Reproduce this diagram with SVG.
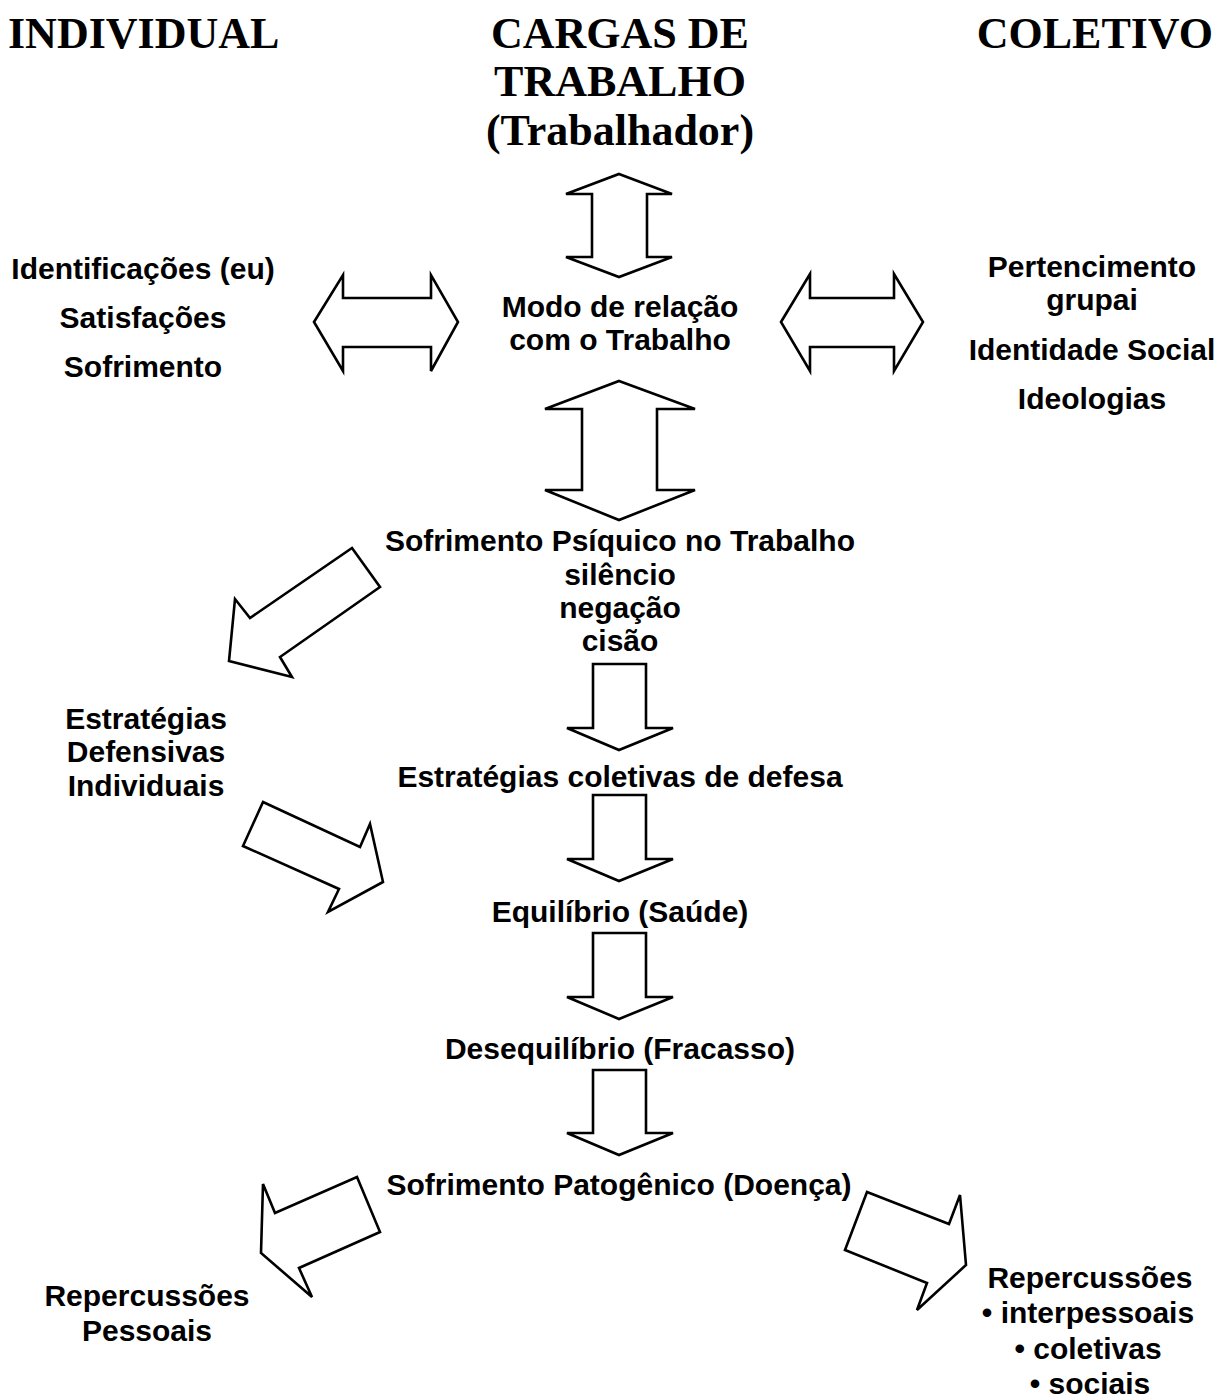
<svg xmlns="http://www.w3.org/2000/svg" width="1220" height="1399" viewBox="0 0 1220 1399">
<style>
.h{font-family:"Liberation Serif","Times New Roman",serif;font-weight:bold;font-size:44px;fill:#000}
.t{font-family:"Liberation Sans",Arial,sans-serif;font-weight:bold;font-size:30px;fill:#000;text-anchor:middle}
.a{fill:#fff;stroke:#000;stroke-width:2.6;stroke-linejoin:miter}
</style>
<rect width="1220" height="1399" fill="#fff"/>
<g id="header-individual"><text class="h" x="8" y="48">INDIVIDUAL</text></g>
<g id="header-cargas"><text class="h" x="620" y="48" text-anchor="middle">CARGAS DE</text><text class="h" x="620" y="96" text-anchor="middle">TRABALHO</text><text class="h" x="620" y="145" text-anchor="middle">(Trabalhador)</text></g>
<g id="header-coletivo"><text class="h" x="1213" y="48" text-anchor="end">COLETIVO</text></g>
<g id="individual-list"><text class="t" x="143" y="279">Identificações (eu)</text><text class="t" x="143" y="328">Satisfações</text><text class="t" x="143" y="377">Sofrimento</text></g>
<g id="modo-relacao"><text class="t" x="620" y="317">Modo de relação</text><text class="t" x="620" y="350">com o Trabalho</text></g>
<g id="coletivo-list"><text class="t" x="1092" y="277">Pertencimento</text><text class="t" x="1092" y="310">grupai</text><text class="t" x="1092" y="360">Identidade Social</text><text class="t" x="1092" y="409">Ideologias</text></g>
<g id="sofrimento-psiquico"><text class="t" x="620" y="551">Sofrimento Psíquico no Trabalho</text><text class="t" x="620" y="585">silêncio</text><text class="t" x="620" y="618">negação</text><text class="t" x="620" y="651">cisão</text></g>
<g id="estrategias-individuais"><text class="t" x="146" y="729">Estratégias</text><text class="t" x="146" y="762">Defensivas</text><text class="t" x="146" y="796">Individuais</text></g>
<g id="estrategias-coletivas"><text class="t" x="620" y="787">Estratégias coletivas de defesa</text></g>
<g id="equilibrio"><text class="t" x="620" y="922">Equilíbrio (Saúde)</text></g>
<g id="desequilibrio"><text class="t" x="620" y="1059">Desequilíbrio (Fracasso)</text></g>
<g id="sofrimento-patogenico"><text class="t" x="619" y="1195">Sofrimento Patogênico (Doença)</text></g>
<g id="repercussoes-pessoais"><text class="t" x="147" y="1306">Repercussões</text><text class="t" x="147" y="1341">Pessoais</text></g>
<g id="repercussoes-coletivas"><text class="t" x="1090" y="1288">Repercussões</text><text class="t" x="1088" y="1323">• interpessoais</text><text class="t" x="1088" y="1359">• coletivas</text><text class="t" x="1090" y="1394">• sociais</text></g>
<g id="connectors">
<path class="a" d="M619,174 L672,194 L647,194 L647,257 L672,257 L619,277 L566,257 L592,257 L592,194 L566,194 Z"/>
<path class="a" d="M314,322 L343,275 L343,298 L431,298 L431,275 L458,322 L431,371 L431,347 L343,347 L343,371 Z"/>
<path class="a" d="M781,322 L810,274 L810,298 L894,298 L894,274 L923,322 L894,371 L894,347 L810,347 L810,371 Z"/>
<path class="a" d="M619,381 L695,409 L657,409 L657,490 L695,490 L619,520 L545,490 L582,490 L582,409 L545,409 Z"/>
<path class="a" d="M593,664 L646,664 L646,728 L673,728 L619,750 L567,728 L593,728 Z"/>
<path class="a" d="M593,795 L646,795 L646,859 L673,859 L619,881 L567,859 L593,859 Z"/>
<path class="a" d="M593,933 L646,933 L646,997 L673,997 L619,1019 L567,997 L593,997 Z"/>
<path class="a" d="M593,1070 L646,1070 L646,1133 L673,1133 L619,1155 L567,1133 L593,1133 Z"/>
<path class="a" d="M352,548 L380,587 L280,657 L292,677 L229,661 L235,599 L250,618 Z"/>
<path class="a" d="M263,802 L360,847 L370,824 L383,882 L328,912 L339,889 L243,846 Z"/>
<path class="a" d="M357,1177 L380,1232 L299,1268 L312,1297 L261,1253 L263,1184 L275,1213 Z"/>
<path class="a" d="M867,1192 L949,1224 L960,1195 L966,1265 L917,1310 L927,1283 L845,1250 Z"/>
</g>
</svg>
